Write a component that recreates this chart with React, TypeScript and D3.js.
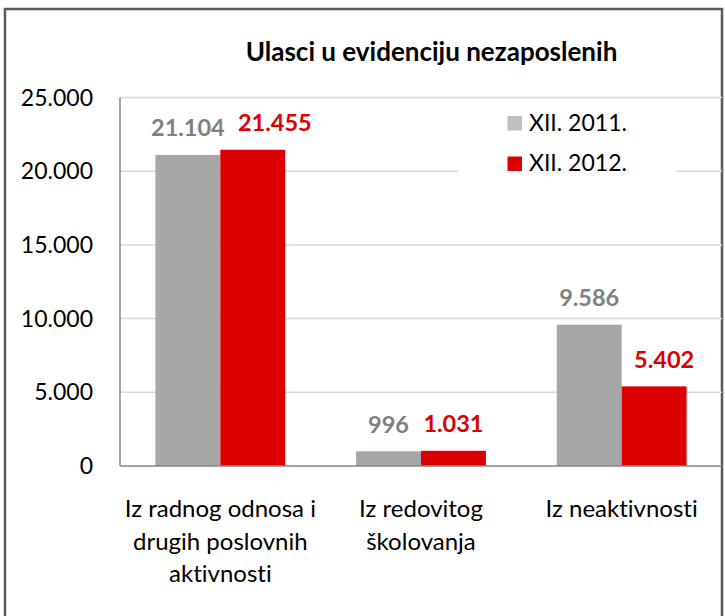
import React from "react";
import * as d3 from "d3";

const categories: string[][] = [
  ["Iz radnog odnosa i", "drugih poslovnih", "aktivnosti"],
  ["Iz redovitog", "školovanja"],
  ["Iz neaktivnosti"],
];
const seriesNames = ["XII. 2011.", "XII. 2012."];
const values2011 = [21104, 996, 9586];
const values2012 = [21455, 1031, 5402];
const yTicks = [0, 5000, 10000, 15000, 20000, 25000];
const title = "Ulasci u evidenciju nezaposlenih";

const W = 725;
const H = 616;
const FONT = "Lato, 'Open Sans', sans-serif";

const barColors = ["#A6A6A6", "#DD0000"];
const legendColors = ["#BFBFBF", "#DD0000"];
const labelColors = ["#808080", "#DD0000"];

// horizontal nudges of data labels (series-category) to avoid overlap, as in the original
const labelNudge: Record<string, number> = { "1-0": 22, "1-2": 10 };

const locale = d3.formatLocale({ decimal: ",", thousands: ".", grouping: [3], currency: ["", ""] });
const fmt = locale.format(",d");

export default function App() {
  const plotLeft = 120;
  const plotRight = 722;
  const plotTop = 97.5;
  const plotBottom = 466;

  const keys = categories.map((_, i) => String(i));
  const x = d3.scaleBand<string>().domain(keys).range([plotLeft, plotRight]).paddingInner(0.353).paddingOuter(0.1765);
  const xs = d3.scaleBand<string>().domain(["0", "1"]).range([0, x.bandwidth()]).padding(0);
  const y = d3.scaleLinear().domain([0, 25000]).range([plotBottom, plotTop]);

  const series = [values2011, values2012];

  return (
    <svg
      width={W}
      height={H}
      style={{ position: "absolute", left: 0, top: 0, fontFamily: FONT, fontVariantLigatures: "none" }}
    >
      <rect x={0} y={0} width={W} height={H} fill="#fff" />
      {/* outer border */}
      <rect x={5} y={9} width={717} height={H + 20} fill="none" stroke="#5a5a5a" strokeWidth={2.5} />

      {/* title */}
      <text x={431.5} y={61} textAnchor="middle" fontSize={26} fontWeight="bold" fill="#000">
        {title}
      </text>

      {/* gridlines */}
      {yTicks.filter((t) => t > 0).map((t) => (
        <line key={t} x1={plotLeft} x2={plotRight} y1={y(t)} y2={y(t)} stroke="#D9D9D9" strokeWidth={1.5} />
      ))}

      {/* y tick labels */}
      {yTicks.map((t) => (
        <text key={t} x={93} y={y(t) + 8} textAnchor="end" fontSize={23} fill="#000">
          {fmt(t)}
        </text>
      ))}

      {/* legend */}
      <rect x={458} y={104} width={218} height={76} fill="#fff" />
      {seriesNames.map((n, i) => (
        <g key={n}>
          <rect x={507.5} y={116 + i * 40.5} width={14.5} height={14.5} fill={legendColors[i]} />
          <text x={529} y={130.5 + i * 40} fontSize={23} fill="#000">
            {n}
          </text>
        </g>
      ))}

      {/* bars */}
      {keys.map((k, ci) => (
        <g key={k} transform={`translate(${x(k)},0)`}>
          {series.map((vals, si) => {
            const bx = xs(String(si))!;
            const v = vals[ci];
            return (
              <g key={si}>
                <rect x={bx} y={y(v)} width={xs.bandwidth()} height={plotBottom - y(v)} fill={barColors[si]} />
                <text
                  x={bx + xs.bandwidth() / 2 + (labelNudge[`${si}-${ci}`] || 0)}
                  y={y(v) - 18.5}
                  textAnchor="middle"
                  fontSize={23.5}
                  fontWeight="bold"
                  fill={labelColors[si]}
                >
                  {fmt(v)}
                </text>
              </g>
            );
          })}
        </g>
      ))}

      {/* axes */}
      <line x1={plotLeft} x2={plotLeft} y1={plotTop} y2={plotBottom} stroke="#868686" strokeWidth={1.5} />
      <line x1={plotLeft} x2={plotRight} y1={plotBottom} y2={plotBottom} stroke="#868686" strokeWidth={1.5} />

      {/* category labels */}
      {keys.map((k, ci) => (
        <text key={k} textAnchor="middle" fontSize={24} fill="#000">
          {categories[ci].map((line, li) => (
            <tspan key={li} x={x(k)! + x.bandwidth() / 2} y={517 + li * 32.5}>
              {line}
            </tspan>
          ))}
        </text>
      ))}
    </svg>
  );
}
